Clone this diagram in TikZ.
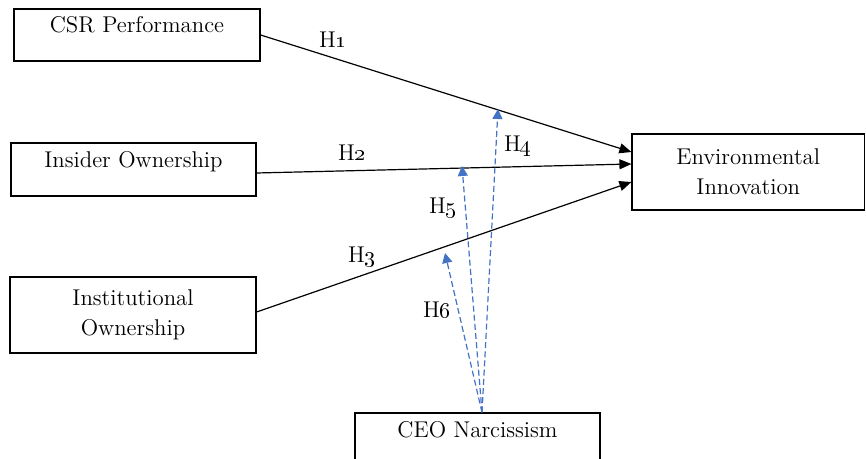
\documentclass[tikz,border=0pt]{standalone}
\usetikzlibrary{arrows.meta}
\definecolor{dblue}{HTML}{4472C4}
\tikzset{
  box/.style={draw, line width=0.6pt, inner sep=0pt, align=center, font=\fontsize{11.4}{15}\selectfont},
  onel/.style={text height=7pt, text depth=9pt},
  rel/.style={draw, line width=0.6pt, -{Triangle[length=6pt,width=5pt]}},
  moder/.style={draw=dblue, line width=0.6pt, dash pattern=on 3pt off 1.6pt, -{Triangle[length=5pt,width=5pt]}},
  hyp/.style={inner sep=0pt, font=\fontsize{11.4}{15}\selectfont}
}
\begin{document}
\begin{tikzpicture}[x=0.5pt, y=-0.5pt]
\useasboundingbox (0,0) rectangle (866,459);
\clip (0,0) rectangle (866,459);
\node[box, onel, minimum width=123pt, minimum height=26pt] (csr) at (137,35) {CSR Performance};
\node[box, onel, minimum width=122.5pt, minimum height=26.5pt] (ins) at (133.5,169.5) {Insider Ownership};
\node[box, minimum width=123pt, minimum height=38pt] (inst) at (133,315) {Institutional\\Ownership};
\node[box, minimum width=116.25pt, minimum height=38pt] (env) at (748.25,172) {Environmental\\Innovation};
\node[box, onel, minimum width=122.5pt, minimum height=26pt] (ceo) at (477.5,439) {CEO Narcissism};

\draw[rel] (csr.east) -- ([yshift=10pt]env.west);
\draw[rel] ([yshift=-1.75pt]ins.east) -- ([yshift=4pt]env.west);
\draw[rel] ([yshift=1.5pt]inst.east) -- ([yshift=-5pt]env.west);

\coordinate (h4tip) at (498,109);
\coordinate (h5tip) at (462,166);
\coordinate (h6tip) at (445,253);
\draw[moder] ([xshift=2.25pt]ceo.north) -- (h4tip);
\draw[moder] ([xshift=2.25pt]ceo.north) -- (h5tip);
\draw[moder] ([xshift=2.25pt]ceo.north) -- (h6tip);

\node[hyp] (h1) at (333,40) {H\oldstylenums{1}};
\node[hyp] (h2) at (352,153) {H\oldstylenums{2}};
\node[hyp] (h3) at (362,257) {H\oldstylenums{3}};
\node[hyp] (h4) at (518,146) {H\oldstylenums{4}};
\node[hyp] (h5) at (443,208) {H\oldstylenums{5}};
\node[hyp] (h6) at (437,310) {H\oldstylenums{6}};
\end{tikzpicture}
\end{document}
